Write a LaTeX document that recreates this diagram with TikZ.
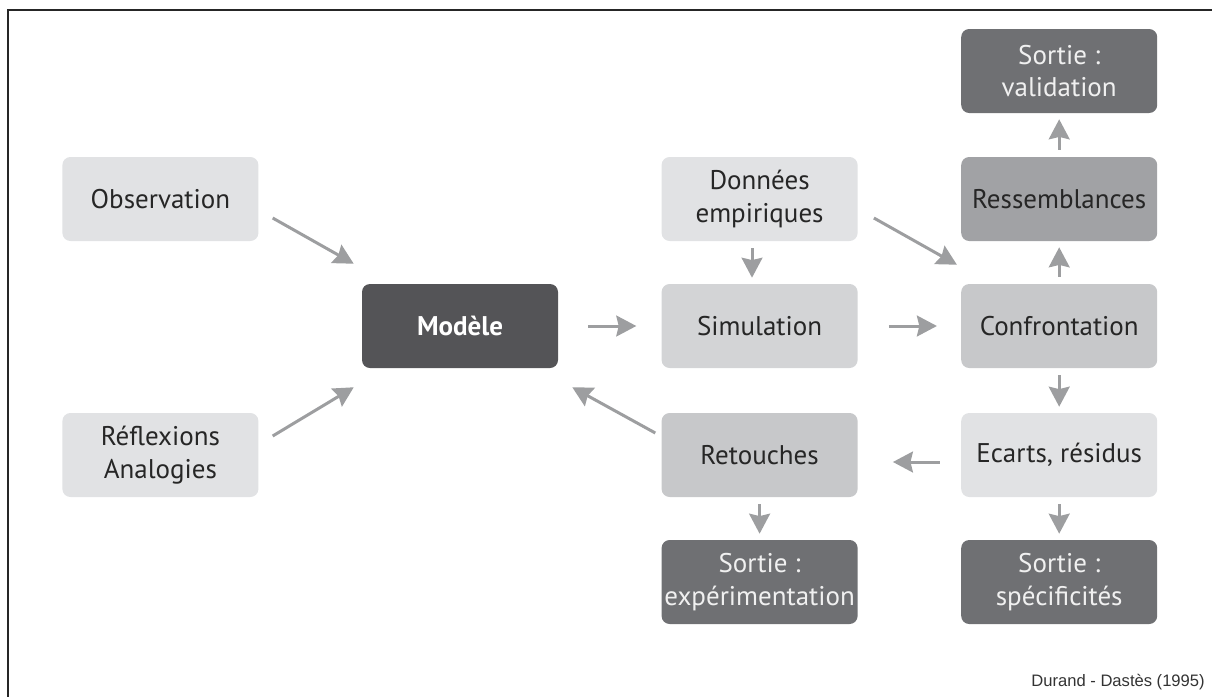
\documentclass[tikz,border=0pt]{standalone}
\usepackage{fontspec}
\setmainfont{PT Sans}
\newfontfamily\creditfont{Liberation Sans}
\usepackage{xcolor}
\usetikzlibrary{
    arrows.meta,
    calc
}

\definecolor{pale}{HTML}{E1E2E4}
\definecolor{mid}{HTML}{D3D4D6}
\definecolor{midd}{HTML}{C7C8CA}
\definecolor{dim}{HTML}{A1A2A5}
\definecolor{outgray}{HTML}{6F7073}
\definecolor{core}{HTML}{545457}
\definecolor{ink}{HTML}{262626}
\definecolor{arrgray}{HTML}{9D9EA0}

\begin{document}
\begin{tikzpicture}[
    box/.style={rounded corners=0.2cm, minimum width=4.9cm, minimum height=2.1cm,
        inner sep=0pt, align=center, text=ink, font=\fontsize{19.2}{23}\selectfont},
    outbox/.style={box, fill=outgray, text=white!94!black},
    arr/.style={draw=arrgray, line width=0.075cm,
        -{Stealth[length=0.5cm, width=0.52cm, inset=0.06cm]}},
    vert/.style={arr, shorten <=0.175cm, shorten >=0.15cm}
]
    \useasboundingbox (0, 0) rectangle (30.3, -17.425);
    \draw[line width=0.05cm, color=black!85] (30.3, -0.24) -- (0.19, -0.24) -- (0.19, -17.425);

    \node[box, fill=pale] (obs) at (4.01, -4.975) {Observation};
    \node[box, fill=pale] (refl) at (4.01, -11.375) {Réflexions\\Analogies};
    \node[box, fill=core, text=white, font=\fontsize{19.2}{23}\selectfont\bfseries] (mod) at (11.5, -8.15) {Modèle};
    \node[box, fill=pale] (don) at (18.99, -4.975) {Données\\empiriques};
    \node[box, fill=mid] (sim) at (18.99, -8.15) {Simulation};
    \node[box, fill=midd] (ret) at (18.99, -11.375) {Retouches};
    \node[outbox] (exp) at (18.99, -14.55) {Sortie :\\expérimentation};
    \node[outbox] (val) at (26.48, -1.775) {Sortie :\\validation};
    \node[box, fill=dim] (res) at (26.48, -4.975) {Ressemblances};
    \node[box, fill=midd] (conf) at (26.48, -8.15) {Confrontation};
    \node[box, fill=pale] (ec) at (26.48, -11.375) {Ecarts, résidus};
    \node[outbox] (spec) at (26.48, -14.55) {Sortie :\\spécificités};

    \node[font=\creditfont\fontsize{11.8}{13}\selectfont, text=black!80, anchor=base east, inner sep=0pt] (src) at (30.125, -17.15) {Durand - Dastès (1995)};

    % inputs to the model
    \draw
    ($(obs.east)+(0.35,-0.475)$) edge[arr] ($(mod.north west)+(-0.2,0.5)$)
    ($(refl.east)+(0.35,0.475)$) edge[arr] ($(mod.south west)+(-0.2,-0.475)$)
    ($(ret.west)+(-0.15,0.55)$) edge[arr] ($(mod.south east)+(0.35,-0.475)$)
    ($(don.east)+(0.4,-0.475)$) edge[arr] ($(conf.north west)+(-0.1,0.475)$);

    % main loop
    \draw
    (mod) edge[arr, shorten <=0.75cm, shorten >=0.625cm] (sim)
    (sim) edge[arr, shorten <=0.775cm, shorten >=0.6cm] (conf)
    ($(ec.west)+(0,-0.175)$) edge[arr, shorten <=0.525cm, shorten >=0.875cm] ($(ret.east)+(0,-0.175)$)
    ($(don.south)+(-0.19,0)$) edge[vert] ($(sim.north)+(-0.19,0)$)
    (conf) edge[vert] (res)
    (res) edge[vert] (val)
    (conf) edge[vert] (ec)
    (ec) edge[vert] (spec)
    (ret) edge[vert] (exp);
\end{tikzpicture}
\end{document}
